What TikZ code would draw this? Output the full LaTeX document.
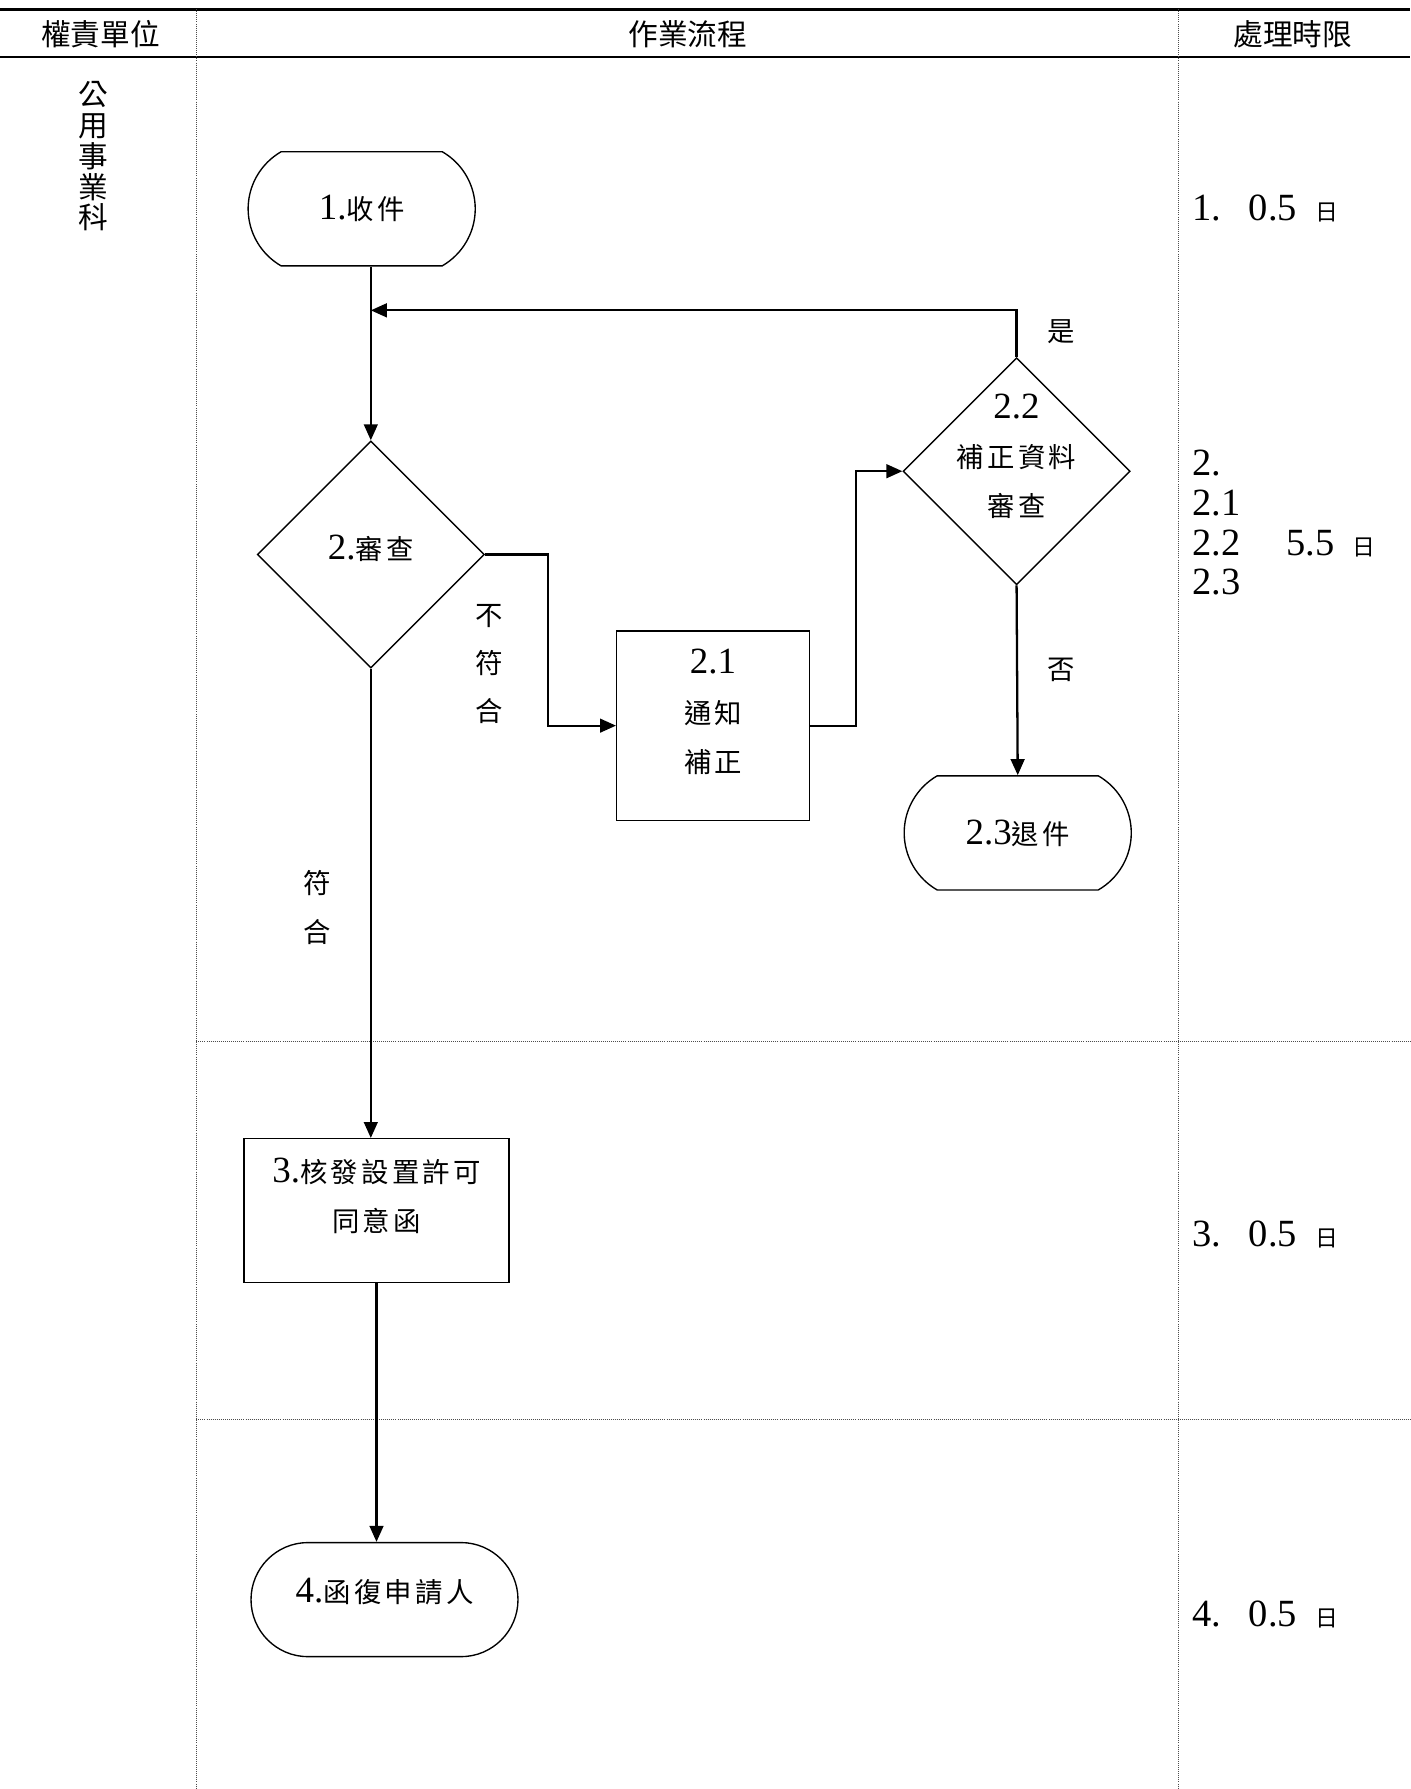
\documentclass[tikz,border=0pt]{standalone}
\usepackage{fontspec}
\setmainfont[Scale=1.35]{Liberation Serif}
\newfontfamily\cjk[LetterSpace=12]{Noto Sans CJK TC}
\newfontfamily\cjkhead{Noto Sans CJK TC}
\newcommand{\zh}[1]{{\cjk #1}}
\newcommand{\ri}{\zh{\fontsize{20}{20}\selectfont 日}}
\usetikzlibrary{shapes.geometric,shapes.misc,arrows.meta}

\begin{document}
\begin{tikzpicture}[x=1pt,y=-1pt,
	every node/.style={font=\fontsize{24}{43}\selectfont, align=center, inner sep=0pt},
	term/.style={draw, line width=1.2pt, rounded rectangle, rounded rectangle arc length=120, minimum width=199pt, minimum height=100pt},
	decide/.style={draw, line width=1.2pt, diamond, inner sep=-40pt, minimum width=199pt, minimum height=199pt},
	task/.style={draw, line width=1.2pt, rectangle},
	flow/.style={draw, line width=2pt, -{Triangle[length=14pt,width=12pt]}},
	rule/.style={line width=2.5pt},
	sep/.style={densely dotted, line width=0.8pt, black!70},
	head/.style={font=\cjkhead\fontsize{26}{27}\selectfont},
	days/.style={anchor=west, align=left, font=\fontsize{25}{35}\selectfont}]
	\useasboundingbox (0,0) rectangle (1236,1568);
	% table
	\draw[rule] (0,8) -- (1236,8);
	\draw[rule] (0,50) -- (1236,50);
	\draw[sep] (172,8) -- (172,1568);
	\draw[sep] (1033,8) -- (1033,1568);
	\draw[sep] (172,913) -- (1236,913);
	\draw[sep] (172,1244) -- (1236,1244);
	\node (hUnit) at (88,30)	[head]	{權責單位};
	\node (hFlow) at (603,30)	[head]	{作業流程};
	\node (hTime) at (1133,30)	[head]	{處理時限};
	\node (unit) at (82,137)	[head]	{公\\用\\事\\業\\科};
	% flow
	\node (rcv) at (317,183)	[term]	{1.\zh{收件}};
	\node (chk) at (325,486)	[decide, text depth=12pt]	{2.\zh{審查}};
	\node (fix) at (891,413)	[decide, text depth=28pt]	{2.2\\\zh{補正資料}\\\zh{審查}};
	\node (note) at (625,636)	[task, minimum width=169pt, minimum height=166pt, text depth=26pt]	{2.1\\\zh{通知}\\\zh{補正}};
	\node (ret) at (892,730)	[term]	{2.3\zh{退件}};
	\node (perm) at (330,1061)	[task, minimum width=232pt, minimum height=126pt, text depth=28pt]	{3.\zh{核發設置許可}\\\zh{同意函}};
	\node (reply) at (337,1402)	[term, minimum width=234pt, rounded rectangle arc length=180, text depth=16pt]	{4.\zh{函復申請人}};
	\coordinate (back) at (325,272);
	\draw[flow] (chk.north |- rcv.south) -- (chk.north);
	\draw[flow] (fix.north) |- (back);
	\draw[flow] (chk.east) -- ++(55,0) |- (note.west);
	\draw[flow] (note.east) -- ++(40,0) |- (fix.west);
	\draw[flow] (fix.south) -- (ret.north);
	\draw[flow] (chk.south) -- (chk.south |- perm.north);
	\draw[flow] (perm.south) -- (perm.south |- reply.north);
	% labels
	\node (yes) at (930,291)	{\zh{是}};
	\node (no) at (930,587)	{\zh{否}};
	\node (fail) at (429,582)	[font=\cjk\fontsize{24}{42}\selectfont]	{不\\符\\合};
	\node (pass) at (278,795)	[font=\cjk\fontsize{24}{43}\selectfont]	{符\\合};
	% time limits
	\node (t1) at (1045,183)	[days]	{1.\hspace{24pt}0.5\hspace{16pt}\ri};
	\node (t2) at (1045,458)	[days]	{2.\\2.1\\2.2\hspace{40pt}5.5\hspace{16pt}\ri\\2.3};
	\node (t3) at (1045,1082)	[days]	{3.\hspace{24pt}0.5\hspace{16pt}\ri};
	\node (t4) at (1045,1415)	[days]	{4.\hspace{24pt}0.5\hspace{16pt}\ri};
\end{tikzpicture}
\end{document}
